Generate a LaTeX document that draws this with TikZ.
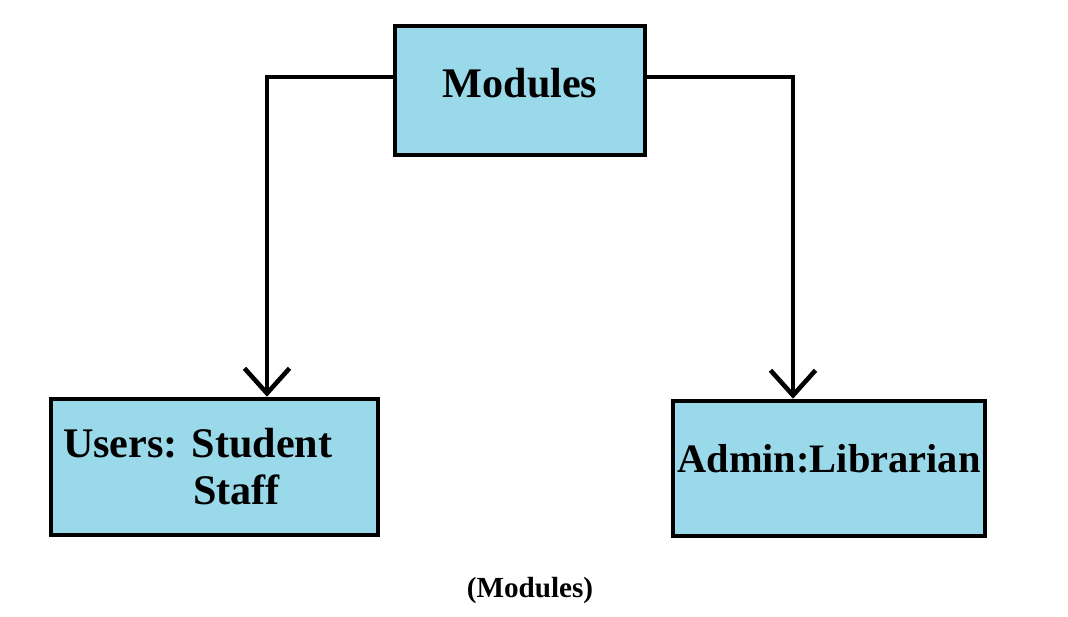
\documentclass[tikz,border=0pt]{standalone}
\usepackage{fontspec}
\setmainfont{Liberation Serif}
\usepackage{tikz}
\usetikzlibrary{positioning,arrows.meta,calc}

\definecolor{boxblue}{RGB}{153,217,234}

\begin{document}
\frenchspacing
\begin{tikzpicture}[x=0.02cm, y=-0.02cm,
    modbox/.style={rectangle, draw=black, fill=boxblue, line width=2.6pt,
      font=\bfseries\fontsize{24}{29}\selectfont},
    conn/.style={line width=2.6pt, -{Straight Barb[length=0.5cm, width=0.9cm, line width=2.6pt]}}]

\useasboundingbox (0,0) rectangle (1068,617);

% Top box
\node[modbox, minimum width=5.0cm, minimum height=2.58cm] (mod) at (520,90.5)
  {\raisebox{0.32cm}{Modules}};

% Users box
\node[modbox, minimum width=6.54cm, minimum height=2.72cm, inner xsep=0.24cm,
      text width=6.06cm, align=left] (usr) at (214.5,467)
  {Users: Student\\[-0.08cm]\hspace*{2.6cm}Staff};

% Admin box
\node[modbox, minimum width=6.24cm, minimum height=2.7cm, inner xsep=0pt,
      font=\bfseries\fontsize{23}{28}\selectfont] (adm) at (829,468.5)
  {\raisebox{0.4cm}{Admin:Librarian}};

% Connectors
\draw[conn] ([yshift=0.27cm]mod.west) -| ([xshift=1.05cm]usr.north);
\draw[conn] ([yshift=0.27cm]mod.east) -| ([xshift=-0.72cm]adm.north);

% Caption
\node[font=\bfseries\fontsize{16.6}{20}\selectfont] (cap) at (530,590) {(Modules)};

\end{tikzpicture}
\end{document}
